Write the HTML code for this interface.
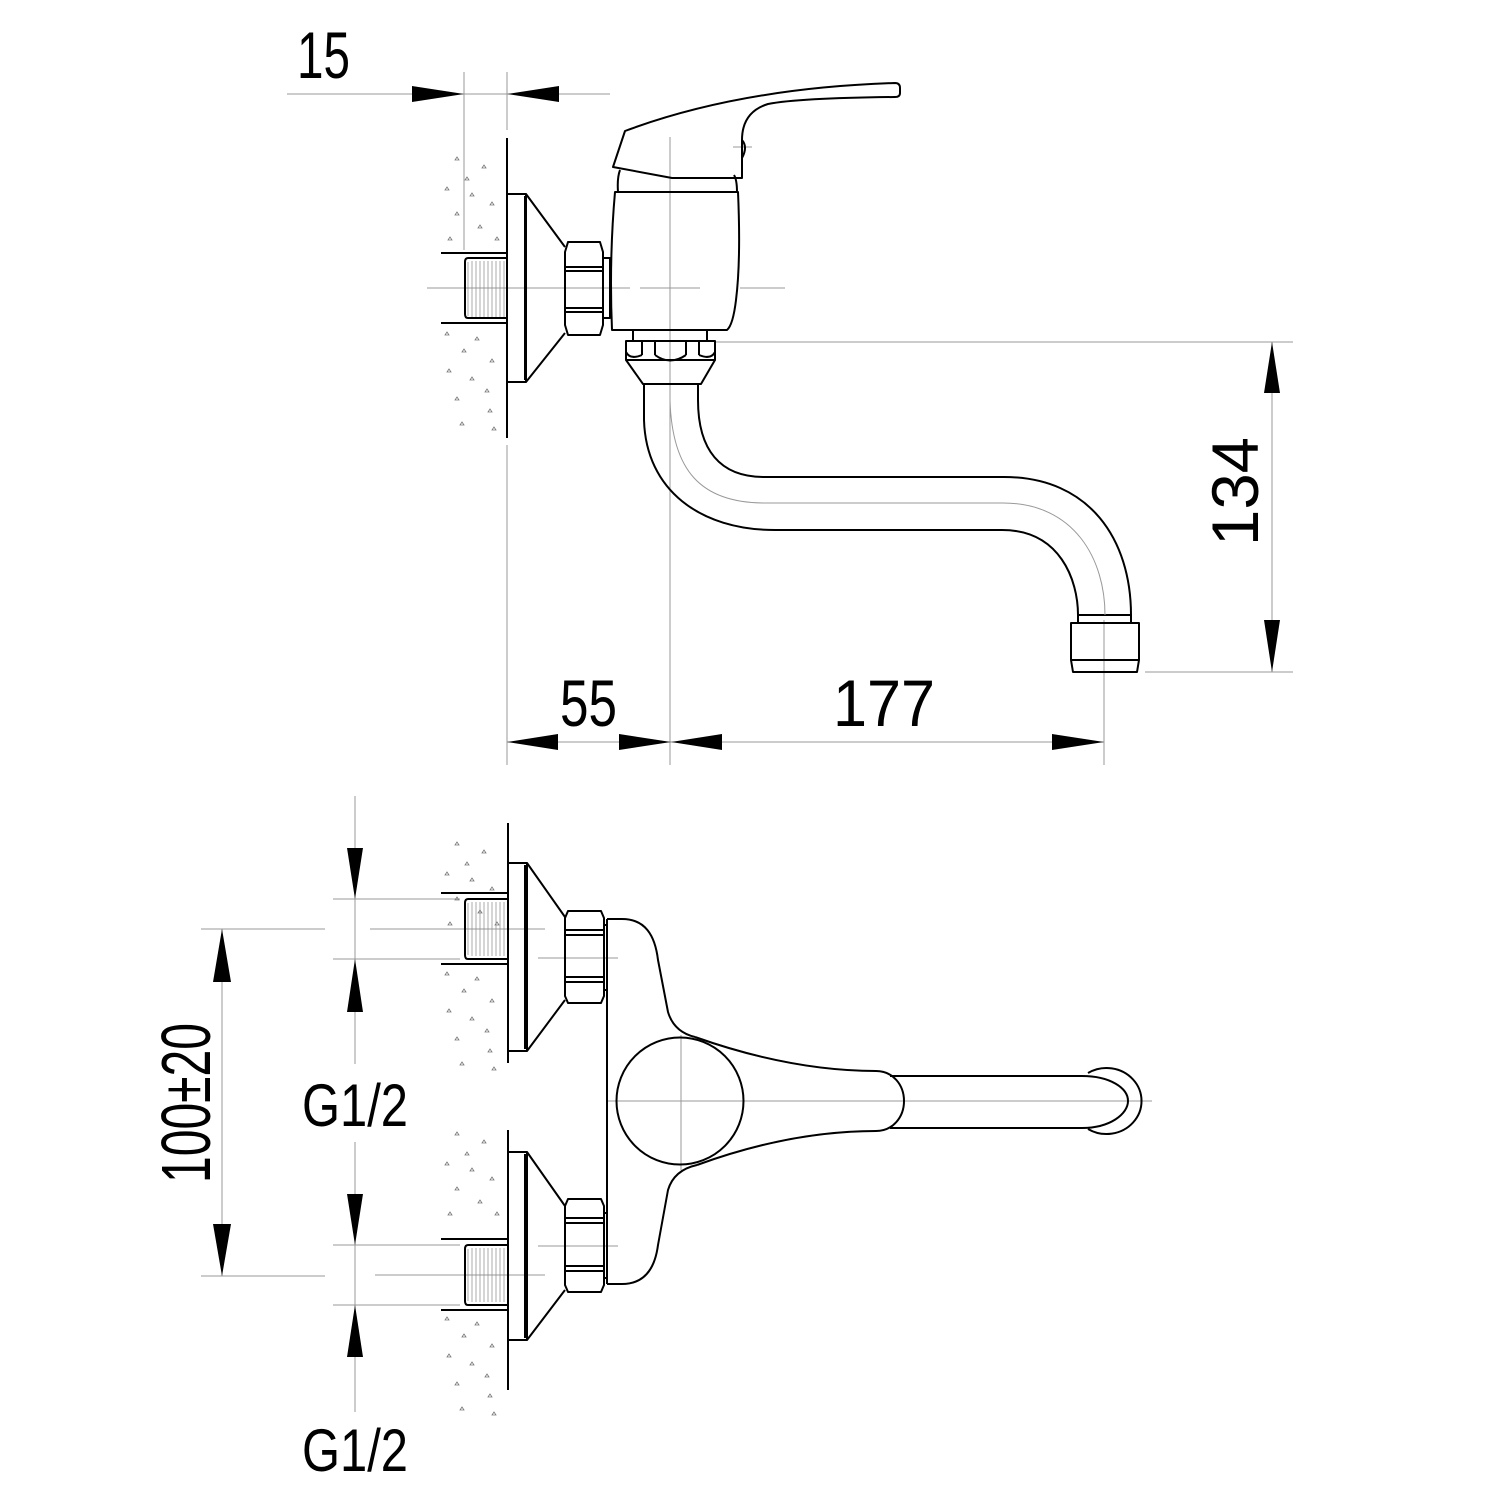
<!DOCTYPE html>
<html><head><meta charset="utf-8"><style>
html,body{margin:0;padding:0;background:#fff}
svg{display:block}
text{font-family:"Liberation Sans",Arial,sans-serif;fill:#000}
</style></head><body>
<svg width="1500" height="1500" viewBox="0 0 1500 1500" xmlns="http://www.w3.org/2000/svg">
<defs>
<g id="dots" fill="none" stroke="#777" stroke-width="0.8">
<path d="M455,160 l2,-3 l2,3z M482,168 l2,-3 l2,3z M445,190 l2,-3 l2,3z M470,196 l2,-3 l2,3z M490,205 l2,-3 l2,3z M455,215 l2,-3 l2,3z M478,228 l2,-3 l2,3z M495,240 l2,-3 l2,3z M448,240 l2,-3 l2,3z M465,180 l2,-3 l2,3z"/>
</g>
<g id="dots2" fill="none" stroke="#777" stroke-width="0.8">
<path d="M445,335 l2,-3 l2,3z M475,340 l2,-3 l2,3z M462,352 l2,-3 l2,3z M490,362 l2,-3 l2,3z M447,372 l2,-3 l2,3z M470,380 l2,-3 l2,3z M485,392 l2,-3 l2,3z M455,400 l2,-3 l2,3z M488,412 l2,-3 l2,3z M460,425 l2,-3 l2,3z M492,430 l2,-3 l2,3z"/>
</g>
</defs>

<!-- ============ TOP VIEW ============ -->
<g stroke="#999" stroke-width="1" fill="none">
<line x1="287" y1="94" x2="610" y2="94"/>
<line x1="464" y1="72" x2="464" y2="250"/>
<line x1="507" y1="72" x2="507" y2="130"/>
<line x1="507" y1="445" x2="507" y2="765"/>
<line x1="427" y1="288" x2="630" y2="288"/>
<line x1="640" y1="288" x2="700" y2="288"/>
<line x1="670" y1="137" x2="670" y2="765"/>
<line x1="740" y1="288" x2="785" y2="288"/>
<line x1="714" y1="342" x2="1293" y2="342"/>
<line x1="1145" y1="672" x2="1293" y2="672"/>
<line x1="1272" y1="342" x2="1272" y2="672"/>
<line x1="1104" y1="620" x2="1104" y2="765"/>
<line x1="507" y1="742" x2="1104" y2="742"/>
<line x1="733" y1="147" x2="752" y2="147"/>
</g>
<use href="#dots"/><use href="#dots2"/>
<g fill="#000">
<polygon points="412,86 464,94 412,102"/>
<polygon points="559,86 507,94 559,102"/>
<polygon points="558,734 507,742 558,750"/>
<polygon points="619,734 671,742 619,750"/>
<polygon points="722,734 671,742 722,750"/>
<polygon points="1052,734 1104,742 1052,750"/>
<polygon points="1264,393 1272,342 1280,393"/>
<polygon points="1264,620 1272,672 1280,620"/>
</g>
<g stroke="#000" stroke-width="2" fill="none" stroke-linejoin="round">
<line x1="507" y1="138" x2="507" y2="438"/>
<line x1="441" y1="253" x2="507" y2="253"/>
<line x1="441" y1="323" x2="507" y2="323"/>
<path d="M507,258 L468,258 Q465,258 465,262 L465,314 Q465,318 468,318 L507,318"/>
<rect x="507" y="194" width="19" height="188"/>
<line x1="525" y1="196" x2="525" y2="380"/>
<path d="M526,194 L565,247 M526,382 L565,333"/>
<path d="M568,242 L600,242 L603,252 L603,325 L600,335 L568,335 L565,325 L565,252 Z"/>
<line x1="565" y1="267" x2="603" y2="267"/><line x1="565" y1="271" x2="603" y2="271"/>
<line x1="565" y1="308" x2="603" y2="308"/><line x1="565" y1="312" x2="603" y2="312"/>
<rect x="603" y="258" width="7" height="60"/>
<path d="M615,192 L738,192 Q741,260 736,300 Q733,325 727,330 L612,330 Q609,260 615,192 Z"/>
<path d="M618,192 Q617,178 620,170 M737,192 Q737,180 734,175"/>
<path d="M613,167 L625,131 Q740,88 895,83 Q900,83 900,88 L900,93 Q900,97 895,97 Q800,98 768,104 Q742,112 742,140 L742,178 L672,178 Z"/>
<path d="M742,140 Q748,147 742,158"/>
<rect x="633" y="330" width="74" height="11"/>
<path d="M626,341 L715,341 L715,360 L626,360 Z"/>
<path d="M626,360 L643,384 L701,384 L715,360"/>
<path d="M642,341 L642,355 M655,341 L655,355 M686,341 L686,355 M699,341 L699,355 M655,355 Q670,366 686,355 M626,352 Q630,360 642,355 M715,352 Q711,360 699,355"/>
<path d="M644,384 L644,420 C646,490 700,530 775,530 L1002,530 C1060,530 1078,580 1078,615"/>
<path d="M698,384 L698,400 C698,450 720,477 764,477 L1004,477 C1090,477 1131,540 1131,615"/>
<rect x="1078" y="615" width="53" height="8"/>
<path d="M1071,623 L1139,623 L1139,660 L1137,672 L1073,672 L1071,660 Z"/>
<line x1="1071" y1="660" x2="1139" y2="660"/>
</g>
<path d="M670,400 C672,470 700,503 765,503 L1003,503 C1075,503 1105,560 1105,615" stroke="#999" stroke-width="1" fill="none"/>
<g stroke="#888" stroke-width="0.7">
<path d="M468,262 V316 M472,261 V317 M476,261 V317 M480,261 V317 M484,261 V317 M488,261 V317 M492,261 V317 M496,261 V317 M500,261 V317 M504,261 V317"/>
</g>

<!-- ============ BOTTOM VIEW ============ -->
<g stroke="#999" stroke-width="1" fill="none">
<line x1="355" y1="796" x2="355" y2="1064"/>
<line x1="355" y1="1142" x2="355" y2="1412"/>
<line x1="222" y1="929" x2="222" y2="1276"/>
<line x1="201" y1="929" x2="325" y2="929"/>
<line x1="201" y1="1276" x2="325" y2="1276"/>
<line x1="333" y1="899" x2="460" y2="899"/>
<line x1="333" y1="959" x2="460" y2="959"/>
<line x1="370" y1="929" x2="545" y2="929"/>
<line x1="333" y1="1245" x2="460" y2="1245"/>
<line x1="333" y1="1305" x2="460" y2="1305"/>
<line x1="375" y1="1275" x2="545" y2="1275"/>
<line x1="538" y1="958" x2="618" y2="958"/>
<line x1="538" y1="1246" x2="618" y2="1246"/>
<line x1="607" y1="1101" x2="1152" y2="1101"/>
<line x1="681" y1="1035" x2="681" y2="1170"/>
</g>
<g transform="translate(0,685)"><use href="#dots"/></g>
<g transform="translate(0,640)"><use href="#dots2"/></g>
<g transform="translate(0,975)"><use href="#dots"/></g>
<g transform="translate(0,985)"><use href="#dots2"/></g>
<g fill="#000">
<polygon points="347,848 355,899 363,848"/>
<polygon points="347,1012 355,959 363,1012"/>
<polygon points="347,1194 355,1245 363,1194"/>
<polygon points="347,1357 355,1305 363,1357"/>
<polygon points="213,982 222,929 231,982"/>
<polygon points="213,1224 222,1276 231,1224"/>
</g>
<g stroke="#000" stroke-width="2" fill="none" stroke-linejoin="round">
<line x1="508" y1="823" x2="508" y2="1063"/>
<line x1="508" y1="1130" x2="508" y2="1390"/>
<line x1="441" y1="893" x2="508" y2="893"/>
<line x1="441" y1="964" x2="508" y2="964"/>
<path d="M508,899 L468,899 Q465,899 465,903 L465,955 Q465,959 468,959 L508,959"/>
<rect x="508" y="863" width="19" height="188"/>
<line x1="525" y1="865" x2="525" y2="1049"/>
<path d="M527,863 L565,917 M527,1051 L565,1000"/>
<path d="M568,911 L601,911 L604,918 L604,996 L601,1003 L568,1003 L565,996 L565,918 Z"/>
<line x1="565" y1="930" x2="604" y2="930"/><line x1="565" y1="935" x2="604" y2="935"/>
<line x1="565" y1="977" x2="604" y2="977"/><line x1="565" y1="982" x2="604" y2="982"/>
<rect x="604" y="925" width="3" height="65"/>
<line x1="441" y1="1239" x2="508" y2="1239"/>
<line x1="441" y1="1310" x2="508" y2="1310"/>
<path d="M508,1245 L468,1245 Q465,1245 465,1249 L465,1301 Q465,1305 468,1305 L508,1305"/>
<rect x="508" y="1152" width="19" height="188"/>
<line x1="525" y1="1154" x2="525" y2="1338"/>
<path d="M527,1152 L565,1206 M527,1340 L565,1290"/>
<path d="M568,1199 L601,1199 L604,1206 L604,1285 L601,1292 L568,1292 L565,1285 L565,1206 Z"/>
<line x1="565" y1="1218" x2="604" y2="1218"/><line x1="565" y1="1223" x2="604" y2="1223"/>
<line x1="565" y1="1266" x2="604" y2="1266"/><line x1="565" y1="1271" x2="604" y2="1271"/>
<rect x="604" y="1213" width="3" height="65"/>
<!-- plate -->
<line x1="607" y1="919" x2="607" y2="1284"/>
<path d="M607,919 L622,919 C645,919 655,935 658,960 L668,1012 Q674,1032 695,1037"/>
<path d="M697,1165 Q674,1170 668,1190 L658,1245 C655,1268 645,1284 622,1284 L607,1284"/>
<circle cx="680" cy="1101" r="63.5"/>
<path d="M695,1037 C760,1060 820,1071 876,1071 C893,1071 904,1085 904,1101 C904,1117 893,1131 876,1131 C820,1131 760,1142 697,1165"/>
<path d="M890,1076 L1082,1076 C1110,1076 1128,1088 1128,1101 C1128,1114 1110,1128 1082,1128 L890,1128"/>
<path d="M1088,1073 A35 33 0 1 1 1088,1129"/>
</g>
<g stroke="#888" stroke-width="0.7">
<path d="M468,903 V955 M472,902 V956 M476,902 V956 M480,902 V956 M484,902 V956 M488,902 V956 M492,902 V956 M496,902 V956 M500,902 V956 M504,902 V956"/>
<path d="M468,1249 V1301 M472,1248 V1302 M476,1248 V1302 M480,1248 V1302 M484,1248 V1302 M488,1248 V1302 M492,1248 V1302 M496,1248 V1302 M500,1248 V1302 M504,1248 V1302"/>
</g>

<text x="297" y="78" font-size="66" textLength="53" lengthAdjust="spacingAndGlyphs">15</text>
<text x="560" y="726" font-size="66" textLength="57" lengthAdjust="spacingAndGlyphs">55</text>
<text x="833" y="726" font-size="66" textLength="102" lengthAdjust="spacingAndGlyphs">177</text>
<text transform="translate(1258,546) rotate(-90)" font-size="66" textLength="109" lengthAdjust="spacingAndGlyphs">134</text>
<text transform="translate(210,1183) rotate(-90)" font-size="70" textLength="160" lengthAdjust="spacingAndGlyphs">100±20</text>
<text x="302" y="1126" font-size="60" textLength="106" lengthAdjust="spacingAndGlyphs">G1/2</text>
<text x="302" y="1471" font-size="60" textLength="106" lengthAdjust="spacingAndGlyphs">G1/2</text>
</svg>
</body></html>
